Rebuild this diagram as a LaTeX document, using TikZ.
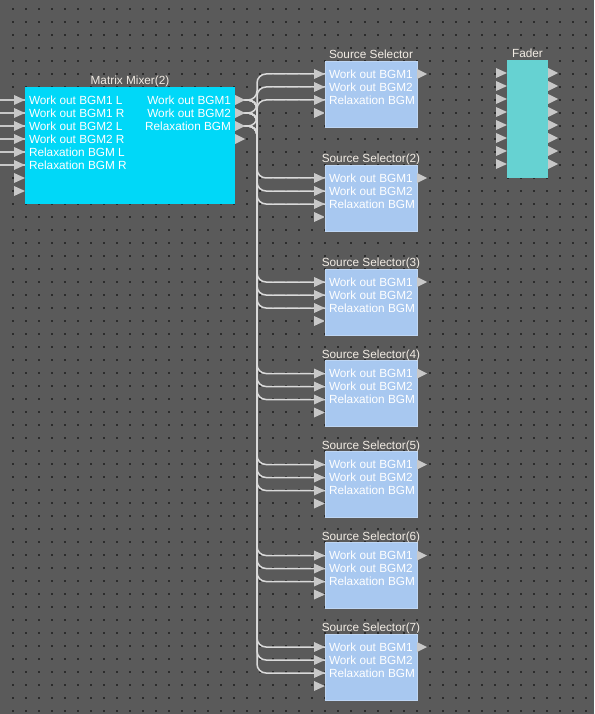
\documentclass[tikz,border=0pt]{standalone}
\usepackage{fontspec}
\setmainfont{Liberation Sans}
\definecolor{bgc}{HTML}{5A5A5A}
\definecolor{dotc}{HTML}{2C2C2C}
\definecolor{mixc}{HTML}{00D8F8}
\definecolor{selc}{HTML}{A8C8F0}
\definecolor{fadc}{HTML}{66D2D2}
\definecolor{portc}{HTML}{C8C8C8}
\definecolor{wirec}{HTML}{DADADA}
\definecolor{titlec}{HTML}{F2ECE4}
\newcommand\inport[1]{\fill[portc] (#1) -- ++(-11,-5) -- ++(0,10) -- cycle;}
\newcommand\outport[1]{\fill[portc] (#1) -- ++(0,-5) -- ++(10,5) -- ++(-10,5) -- cycle;}
\begin{document}
\begin{tikzpicture}[x=1pt,y=-1pt,
  lbl/.style={font=\fontsize{11.8}{12}\selectfont, text=white, inner sep=0pt, outer sep=0pt},
  ttl/.style={font=\fontsize{11.8}{12}\selectfont, text=titlec, inner sep=0pt, outer sep=0pt, anchor=base},
  blk/.style={inner sep=0pt, outer sep=0pt, anchor=north west},
  wire/.style={draw=wirec, line width=1.5pt, rounded corners=9pt},
  feed/.style={draw=portc, line width=1.5pt}]
\useasboundingbox (0,0) rectangle (594,714);
\fill[bgc] (0,0) rectangle (594,714);
\foreach \a in {0,...,44}{
  \foreach \b in {0,...,54}{
    \fill[dotc] (12.7+13.03*\a-1,9+13*\b-1) rectangle ++(2,2);
  }
}
% trunk reference
\coordinate (trunk) at (257,0);
% Matrix mixer
\node[blk, fill=mixc, minimum width=210pt, minimum height=117pt] (mm) at (25,87) {};
\foreach \k in {1,...,8}{\coordinate (mmi\k) at (25,87+13*\k);}
\foreach \k in {1,...,4}{\coordinate (mmo\k) at (235,87+13*\k);}
\foreach \k in {1,...,6}{\coordinate (edge\k) at (0,87+13*\k);}
% Source selectors
\foreach \i/\t in {1/61,2/165,3/269,4/360.5,5/451.5,6/542.5,7/634}{
  \node[blk, fill=selc, draw=selc!75!white, line width=0.6pt, minimum width=92pt, minimum height=66pt] (s\i) at (325,\t) {};
  \foreach \k in {1,...,4}{\coordinate (s\i-in\k) at (325,\t+13*\k);}
  \coordinate (s\i-out) at (417,\t+13);
}
% Fader
\node[blk, fill=fadc, minimum width=41pt, minimum height=118pt] (fd) at (507,60) {};
\foreach \k in {1,...,8}{
  \coordinate (fdi\k) at (507,60+13*\k);
  \coordinate (fdo\k) at (548,60+13*\k);
}
% wires
\foreach \k in {1,...,6}{\draw[feed] (edge\k) -- (mmi\k);}
\foreach \i in {1,...,7}{
  \foreach \k in {1,2,3}{
    \draw[wire] (mmo\k) -- (mmo\k -| trunk) -- (trunk |- s\i-in\k) -- (s\i-in\k);
  }
}
% ports
\foreach \k in {1,...,8}{\inport{mmi\k}}
\foreach \k in {1,...,4}{\outport{mmo\k}}
\foreach \i in {1,...,7}{
  \foreach \k in {1,...,4}{\inport{s\i-in\k}}
  \outport{s\i-out}
}
\foreach \k in {1,...,8}{\inport{fdi\k}\outport{fdo\k}}
% titles
\node[ttl] (mmt) at ([yshift=2.4pt]mm.north) {Matrix Mixer(2)};
\node[ttl] (s1t) at ([yshift=2.4pt]s1.north) {Source Selector};
\foreach \i in {2,...,7}{\node[ttl] (s\i t) at ([yshift=2.4pt]s\i.north) {Source Selector(\i)};}
\node[ttl] (fdt) at ([yshift=2.4pt]fd.north) {Fader};
% mixer labels
\foreach \k/\txt in {1/Work out BGM1 L,2/Work out BGM1 R,3/Work out BGM2 L,4/Work out BGM2 R,5/Relaxation BGM L,6/Relaxation BGM R}{
  \node[lbl, anchor=base west] (mml\k) at ([xshift=4pt,yshift=-4.2pt]mmi\k) {\txt};
}
\foreach \k/\txt in {1/Work out BGM1,2/Work out BGM2,3/Relaxation BGM}{
  \node[lbl, anchor=base east] (mmr\k) at ([xshift=-4pt,yshift=-4.2pt]mmo\k) {\txt};
}
% selector labels
\foreach \i in {1,...,7}{
  \foreach \k/\txt in {1/Work out BGM1,2/Work out BGM2,3/Relaxation BGM}{
    \node[lbl, anchor=base west] (s\i l\k) at ([xshift=4pt,yshift=-4.2pt]s\i-in\k) {\txt};
  }
}
\end{tikzpicture}
\end{document}
